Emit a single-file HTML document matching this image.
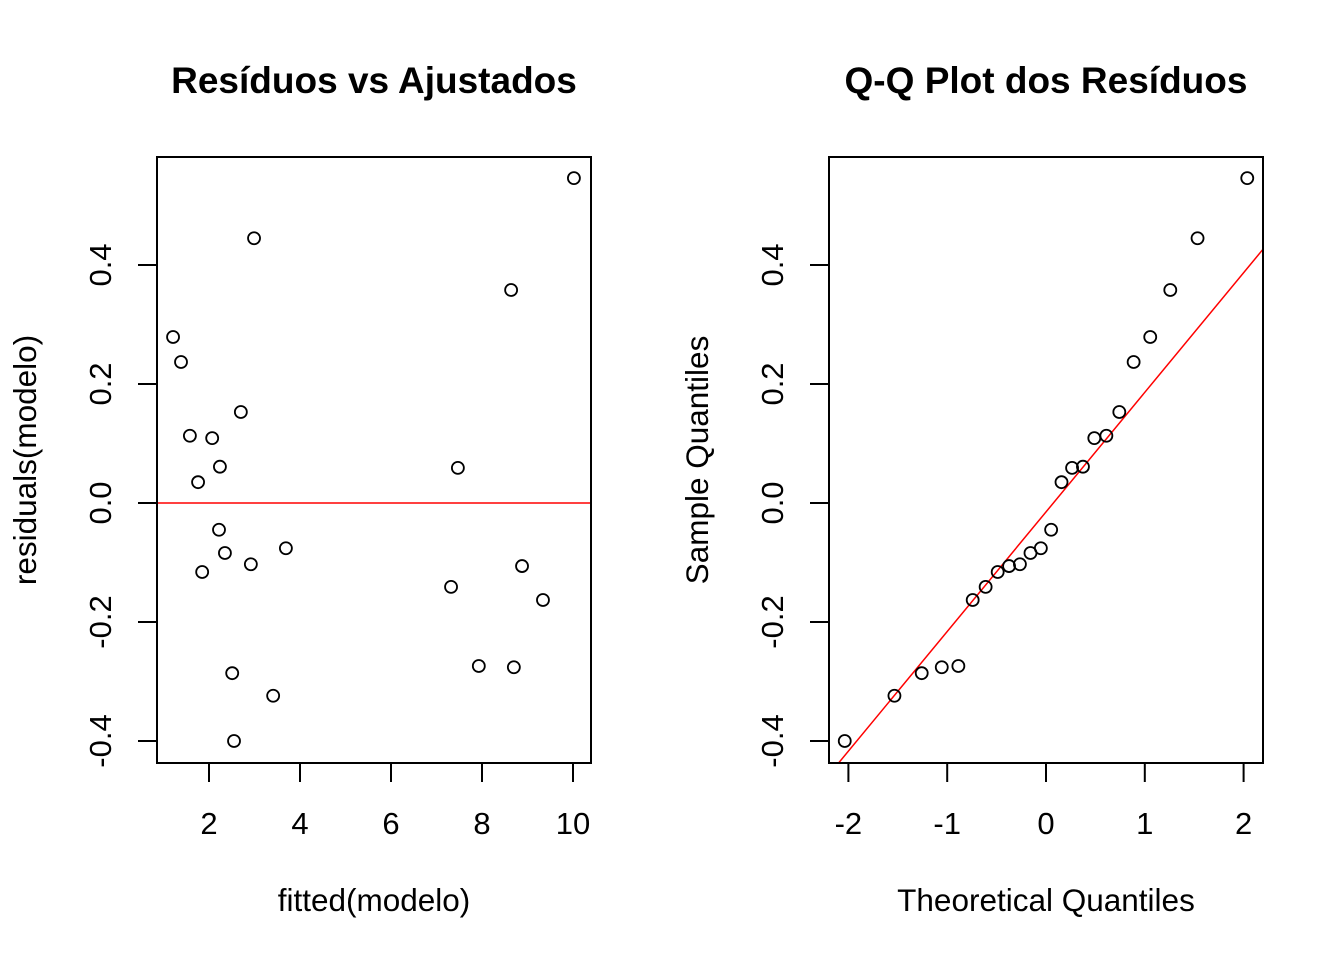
<!DOCTYPE html>
<html><head><meta charset="utf-8"><style>
html,body{margin:0;padding:0;background:#fff;}
svg text{font-family:"Liberation Sans",Arial,sans-serif;fill:#000;}
</style></head><body>
<svg id="chart" width="1344" height="960" xmlns="http://www.w3.org/2000/svg"></svg>
<script>
const fittedValues=[1.21,1.385,1.58,1.76,1.85,2.07,2.22,2.24,2.35,2.51,2.55,2.70,2.92,2.99,3.41,3.69,7.32,7.47,7.93,8.64,8.70,8.88,9.34,10.02];
const residualValues=[0.279,0.237,0.113,0.035,-0.116,0.109,-0.045,0.061,-0.084,-0.286,-0.400,0.153,-0.103,0.445,-0.324,-0.076,-0.141,0.059,-0.274,0.358,-0.276,-0.106,-0.163,0.546];
const theoreticalQuantiles=[-2.037,-1.534,-1.258,-1.055,-0.887,-0.742,-0.611,-0.489,-0.374,-0.264,-0.157,-0.052,0.052,0.157,0.264,0.374,0.489,0.611,0.742,0.887,1.055,1.258,1.534,2.037];
const sampleQuantiles=[-0.400,-0.324,-0.286,-0.276,-0.274,-0.163,-0.141,-0.116,-0.106,-0.103,-0.084,-0.076,-0.045,0.035,0.059,0.061,0.109,0.113,0.153,0.237,0.279,0.358,0.445,0.546];
const leftXTicks=[2,4,6,8,10];
const rightXTicks=[-2,-1,0,1,2];
const yTicks=[-0.4,-0.2,0.0,0.2,0.4];
const yTickLabels=["-0.4","-0.2","0.0","0.2","0.4"];
const qqSlope=0.201, qqIntercept=-0.015;

const NS="http://www.w3.org/2000/svg";
const svg=document.getElementById('chart');
function el(tag,attrs,parent,text){const e=document.createElementNS(NS,tag);for(const k in attrs)e.setAttribute(k,attrs[k]);if(text!==undefined)e.textContent=text;(parent||svg).appendChild(e);return e;}
const yScale=v=>503-v*595;
const plotTop=157,plotBottom=763;
const SW='2';

function panel(name,left,right,xScale,xTicks,xs,ys,title,xTitle,yTitle,drawLine){
  const g=el('g',{},svg);
  
  
  const cx=(left+right)/2;
  const t=el('text',{x:cx,y:93,'text-anchor':'middle','font-size':'37','font-weight':'bold'},g,title);
  
  const cp=el('clipPath',{id:name+'-clip'},g);
  el('rect',{x:left,y:plotTop,width:right-left,height:plotBottom-plotTop},cp);
  drawLine(g,name+'-clip');
  const box=el('rect',{x:left,y:plotTop,width:right-left,height:plotBottom-plotTop,fill:'none',stroke:'#000','stroke-width':SW},g);
  
  const x0=xScale(xTicks[0]),x1=xScale(xTicks[xTicks.length-1]);
  const xa=el('line',{x1:x0,x2:x1,y1:plotBottom,y2:plotBottom,stroke:'#000','stroke-width':SW},g);
  
  xTicks.forEach(v=>{
    const x=xScale(v);
    el('line',{x1:x,x2:x,y1:plotBottom,y2:plotBottom+19,stroke:'#000','stroke-width':SW},g);
    const tl=el('text',{x:x,y:834,'text-anchor':'middle','font-size':'31'},g,String(v));
    
  });
  yTicks.forEach((v,i)=>{
    const y=yScale(v);
    el('line',{x1:left-19,x2:left,y1:y,y2:y,stroke:'#000','stroke-width':SW},g);
    const tl=el('text',{x:0,y:0,'text-anchor':'middle','font-size':'31',transform:`translate(${left-46},${y}) rotate(-90)`},g,yTickLabels[i]);
    
  });
  const xt=el('text',{x:cx,y:911,'text-anchor':'middle','font-size':'31.5'},g,xTitle);
  
  const yt=el('text',{x:0,y:0,'text-anchor':'middle','font-size':'31.5',transform:`translate(${left-121},${(plotTop+plotBottom)/2}) rotate(-90)`},g,yTitle);
  
  xs.forEach((v,i)=>{
    const c=el('circle',{cx:xScale(v),cy:yScale(ys[i]),r:6,fill:'none',stroke:'#000','stroke-width':'1.8'},g);
    
    
  });
}

const leftX=v=>209+(v-2)*45.5;
panel('residuals-vs-fitted',157,591,leftX,leftXTicks,fittedValues,residualValues,'Resíduos vs Ajustados','fitted(modelo)','residuals(modelo)',(g,clip)=>{
  const l=el('line',{x1:157,x2:591,y1:yScale(0),y2:yScale(0),stroke:'#f00','stroke-width':'1.5'},g);
  
});
const rightX=v=>1046+v*98.8;
panel('qq-plot',829,1263,rightX,rightXTicks,theoreticalQuantiles,sampleQuantiles,'Q-Q Plot dos Resíduos','Theoretical Quantiles','Sample Quantiles',(g,clip)=>{
  const xa=-3,xb=3;
  const l=el('line',{x1:rightX(xa),x2:rightX(xb),y1:yScale(qqIntercept+qqSlope*xa),y2:yScale(qqIntercept+qqSlope*xb),stroke:'#f00','stroke-width':'1.5','clip-path':`url(#${clip})`},g);
  
});
</script>
</body></html>
